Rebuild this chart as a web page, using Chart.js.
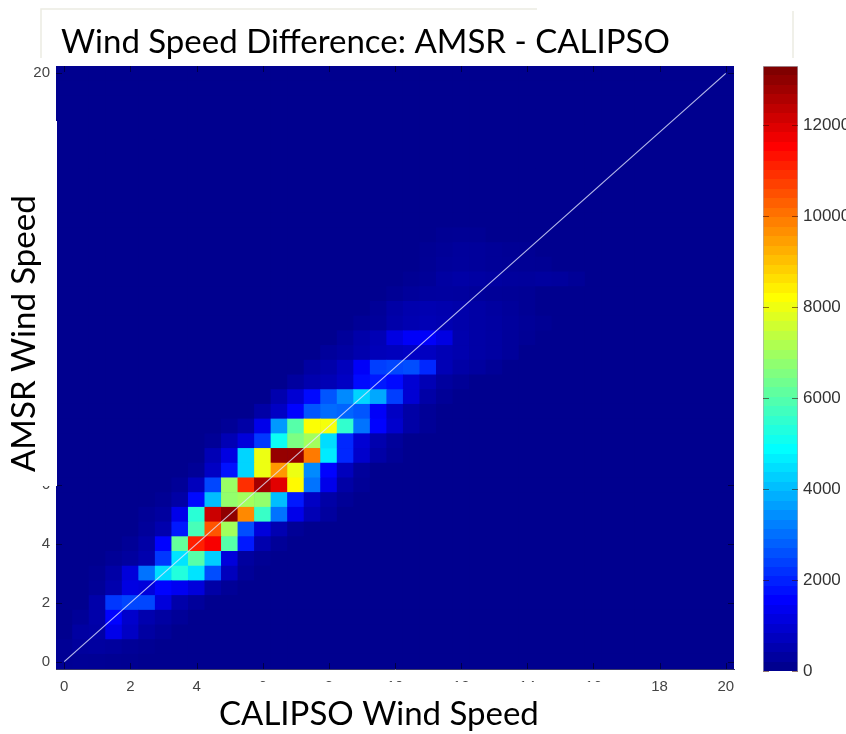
<!DOCTYPE html>
<html>
<head>
<meta charset="utf-8">
<title>Wind Speed Difference</title>
<script src="https://cdn.jsdelivr.net/npm/chart.js@4/dist/chart.umd.min.js"></script>
<style>
  html, body { margin: 0; padding: 0; background: #fff; overflow: hidden; }
  canvas { position: absolute; left: 0; top: 0; }
</style>
</head>
<body>
<canvas id="chart" width="846" height="734"></canvas>
<canvas id="colorbar" width="846" height="734"></canvas>
<script>
const titleText = "Wind Speed Difference: AMSR - CALIPSO";
const xTitleText = "CALIPSO Wind Speed";
const yTitleText = "AMSR Wind Speed";

// bin centres, same for both axes
const bins = ["0","0.5","1","1.5","2","2.5","3","3.5","4","4.5","5","5.5","6","6.5","7","7.5","8","8.5","9","9.5","10",
  "10.5","11","11.5","12","12.5","13","13.5","14","14.5","15","15.5","16","16.5","17","17.5","18","18.5","19","19.5","20"];
const xTicks = ["0","2","4","6","8","10","12","14","16","18","20"];
const yTicks = [0, 2, 4, 6, 20]; // the rest sit under the y title box
const colorTicks = [0, 2000, 4000, 6000, 8000, 10000, 12000];
const colorMax = 13300;
const diagonal = [{x: "0", y: 0}, {x: "20", y: 20}];

// first non zero column of each row, rows go bottom to top
const rowStart = [0,0,1,1,2,2,2,3,4,5,5,6,7,8,9,9,10,12,13,14,15,16,17,18,19,20,21,22,22,23];
const rowCounts = [
  [60,90,70,50,30],
  [70,180,220,180,100,50],
  [250,300,1200,700,250,120],
  [120,350,1500,800,400,250,120],
  [350,2200,2400,2400,1000,350,150],
  [120,400,1100,1000,1500,1300,1000,300,100],
  [60,300,1000,3000,4400,5300,4500,2500,600,120],
  [100,200,400,2200,4500,6000,4200,1000,200,60],
  [100,300,1500,6200,11200,11700,6000,1800,400,120],
  [150,400,1800,5800,10500,7000,2500,1000,450,100],
  [100,200,1200,5400,12300,13100,9800,5600,3000,1200,500,200],
  [80,300,1600,4000,6800,7000,6800,4000,1800,700,300,100],
  [120,600,2400,6900,11000,12800,12000,8300,3000,1200,300,100],
  [100,700,1700,4300,8000,9600,8000,3300,1500,600,150],
  [500,1100,4300,8000,13000,13000,10000,4600,2000,800,300,100],
  [100,500,1000,2200,5000,6500,7000,4400,2000,900,400,150],
  [100,300,1200,3500,6000,8200,8100,5500,3000,1500,800,300,100],
  [300,700,1500,2600,2900,2800,2600,1400,700,300,100],
  [400,900,1600,2600,3300,4300,3700,2300,900,300,100],
  [200,400,500,700,1600,1800,1600,900,500,200,100],
  [250,350,600,1400,2300,2400,2500,2000,500,300,200,100],
  [150,250,400,550,600,700,650,500,400,300,250,150],
  [150,350,500,1100,1400,1400,1100,400,300,250,150,80],
  [100,150,350,450,500,450,350,280,250,180,120,60],
  [120,300,400,450,400,350,280,220,150,80],
  [80,150,200,220,200,150,120,100,80],
  [60,120,250,300,260,220,180,170,200,180,100],
  [80,150,180,150,120,100,80,60],
  [60,120,160,150,120,80,60],
  [60,80,60]
];

// matlab jet, not snapped to levels so the faint cells still show
function jet(value) {
  const t = (value / colorMax * 63 + 1) / 64;
  const ch = (c) => Math.round(255 * Math.max(0, Math.min(1, 1.5 - Math.abs(4 * t - c))));
  return "rgb(" + ch(3) + "," + ch(2) + "," + ch(1) + ")";
}

function cellValue(row, col) {
  if (row >= rowCounts.length) return 0;
  return rowCounts[row][col - rowStart[row]] || 0;
}

const datasets = bins.map((label, row) => {
  const y = Number(label);
  return {
    type: "bar",
    grouped: false,
    barPercentage: 1,
    categoryPercentage: 1,
    data: bins.map(() => [y - 0.25, y + 0.25]),
    backgroundColor: bins.map((b, col) => jet(cellValue(row, col))),
  };
});
datasets.push({
  type: "line",
  order: -1,
  data: diagonal,
  borderColor: "rgba(225,230,255,0.8)",
  borderWidth: 1.2,
  pointRadius: 0,
});

const tickFont = { family: "'Liberation Sans', Arial, sans-serif", size: 15 };

// navy under the cells so bar edges leave no seams
const plotBackground = {
  id: "plotBackground",
  beforeDatasetsDraw(chart) {
    const a = chart.chartArea;
    chart.ctx.save();
    chart.ctx.fillStyle = jet(0);
    chart.ctx.fillRect(a.left, a.top, a.right - a.left, a.bottom - a.top);
    chart.ctx.restore();
  },
};

// small inward ticks like matlab axes
const innerTicks = {
  id: "innerTicks",
  afterDatasetsDraw(chart) {
    const ctx = chart.ctx;
    const a = chart.chartArea;
    ctx.save();
    ctx.strokeStyle = chart.canvas.id === "colorbar" ? "rgba(60,10,0,0.55)" : "rgba(0,0,40,0.7)";
    ctx.lineWidth = 1;
    ctx.beginPath();
    const yScale = chart.scales.y;
    yScale.ticks.forEach((t, i) => {
      const p = Math.round(yScale.getPixelForTick(i)) + 0.5;
      ctx.moveTo(a.left, p); ctx.lineTo(a.left + 6, p);
      ctx.moveTo(a.right, p); ctx.lineTo(a.right - 6, p);
    });
    if (chart.canvas.id === "chart") {
      const xScale = chart.scales.x;
      xScale.ticks.forEach((t, i) => {
        const p = Math.round(xScale.getPixelForTick(i)) + 0.5;
        ctx.moveTo(p, a.top); ctx.lineTo(p, a.top + 6);
        ctx.moveTo(p, a.bottom); ctx.lineTo(p, a.bottom - 6);
      });
    }
    ctx.stroke();
    ctx.restore();
  },
};

// the slide text boxes laid over the matlab figure
const textBoxes = {
  id: "textBoxes",
  afterDraw(chart) {
    const ctx = chart.ctx;
    ctx.save();
    ctx.fillStyle = "#fff";
    ctx.fillRect(220, 682, 405, 15);
    ctx.fillRect(0, 121, 57, 365);

    ctx.strokeStyle = "#ecebe2";
    ctx.lineWidth = 1.5;
    ctx.beginPath();
    ctx.moveTo(41, 58); ctx.lineTo(41, 9); ctx.lineTo(537, 9);
    ctx.moveTo(793, 11); ctx.lineTo(793, 58);
    ctx.stroke();

    ctx.fillStyle = "#000";
    ctx.textBaseline = "alphabetic";
    ctx.font = "33px Lato, sans-serif";
    ctx.fillText(titleText, 61, 53);
    ctx.fillText(xTitleText, 219, 725);
    ctx.translate(35, 472);
    ctx.rotate(-Math.PI / 2);
    ctx.fillText(yTitleText, 0, 0);
    ctx.restore();
  },
};

new Chart(document.getElementById("chart"), {
  type: "bar",
  data: { labels: bins, datasets: datasets },
  plugins: [plotBackground, innerTicks, textBoxes],
  options: {
    responsive: false,
    animation: false,
    layout: { padding: { left: 0, top: 66, right: 112, bottom: 0 } },
    plugins: { legend: { display: false }, tooltip: { enabled: false } },
    scales: {
      x: {
        grid: { display: false, drawTicks: false },
        border: { color: "#3a3a6a" },
        ticks: { autoSkip: false, maxRotation: 0, padding: 9, color: "#444", font: tickFont },
        afterBuildTicks: (axis) => {
          axis.ticks = axis.ticks.filter((t) => xTicks.includes(bins[t.value]));
        },
        afterFit: (axis) => { axis.height = 65; },
      },
      y: {
        min: -0.25,
        max: 20.25,
        grid: { display: false, drawTicks: false },
        border: { color: "#3a3a6a" },
        ticks: { padding: 6, color: "#444", font: tickFont },
        afterBuildTicks: (axis) => { axis.ticks = yTicks.map((v) => ({ value: v })); },
        afterFit: (axis) => { axis.width = 56; },
      },
    },
  },
});

function colorbarFill(context) {
  const chart = context.chart;
  const a = chart.chartArea;
  if (!a) return jet(0);
  const g = chart.ctx.createLinearGradient(0, a.bottom, 0, a.top);
  for (let i = 0; i < 64; i++) {
    const c = jet(i / 63 * colorMax);
    g.addColorStop(i / 64, c);
    g.addColorStop((i + 1) / 64, c);
  }
  return g;
}

new Chart(document.getElementById("colorbar"), {
  type: "bar",
  data: {
    labels: ["counts"],
    datasets: [{
      data: [[0, colorMax]],
      barPercentage: 1,
      categoryPercentage: 1,
      backgroundColor: colorbarFill,
      borderColor: "rgba(110,110,125,0.6)",
      borderWidth: 1,
    }],
  },
  plugins: [innerTicks],
  options: {
    responsive: false,
    animation: false,
    layout: { padding: { left: 763, top: 66, right: 0, bottom: 63 } },
    plugins: { legend: { display: false }, tooltip: { enabled: false } },
    scales: {
      x: { display: false },
      y: {
        position: "right",
        min: 0,
        max: colorMax,
        grid: { display: false, drawTicks: false },
        border: { display: false },
        ticks: {
          padding: 5,
          color: "#333",
          font: { family: tickFont.family, size: 17 },
          callback: (v) => String(v),
        },
        afterBuildTicks: (axis) => { axis.ticks = colorTicks.map((v) => ({ value: v })); },
        afterFit: (axis) => { axis.width = 48; },
      },
    },
  },
});
</script>
</body>
</html>
